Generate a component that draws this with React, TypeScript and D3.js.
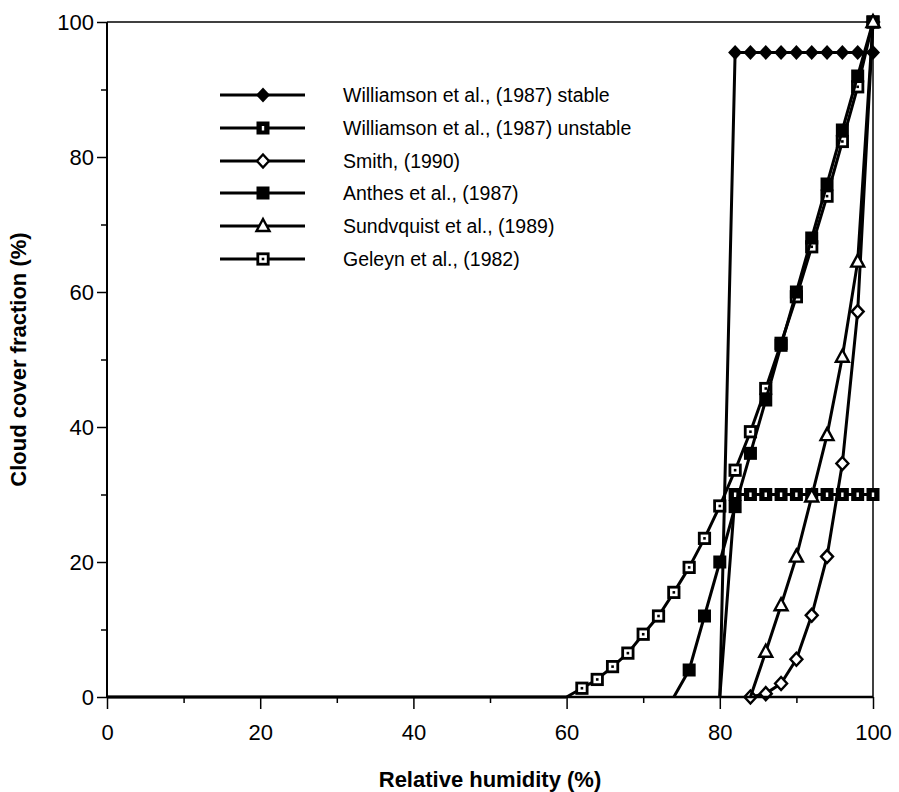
import React, { useEffect, useRef } from "react";
import * as d3 from "d3";

const W = 899;
const H = 792;

// Axis ticks
const xMajorTicks = [0, 20, 40, 60, 80, 100];
const yMajorTicks = [0, 20, 40, 60, 80, 100];
const minorTicks = [10, 30, 50, 70, 90];

// Series data (relative humidity %, cloud cover %)
const stableX = [80, 82, 84, 86, 88, 90, 92, 94, 96, 98, 100];
const stableY = [0, 95.5, 95.5, 95.5, 95.5, 95.5, 95.5, 95.5, 95.5, 95.5, 95.5];

const unstableX = [80, 82, 84, 86, 88, 90, 92, 94, 96, 98, 100];
const unstableY = [0, 30, 30, 30, 30, 30, 30, 30, 30, 30, 30];

const smithX = [84, 86, 88, 90, 92, 94, 96, 98, 100];
const smithY = [0, 0.5, 2.0, 5.6, 12.1, 20.8, 34.6, 57.1, 100];

const anthesX = [74, 76, 78, 80, 82, 84, 86, 88, 90, 92, 94, 96, 98, 100];
const anthesY = [0, 4, 12, 20, 28.2, 36.1, 44, 52.1, 60, 68, 76, 84, 92, 100];

const sundqvistX = [84, 86, 88, 90, 92, 94, 96, 98, 100];
const sundqvistY = [0, 6.7, 13.6, 20.8, 29.7, 38.8, 50.4, 64.5, 100];

const geleynX = [60, 62, 64, 66, 68, 70, 72, 74, 76, 78, 80, 82, 84, 86, 88, 90, 92, 94, 96, 98, 100];
const geleynY = [0, 1.3, 2.6, 4.5, 6.5, 9.3, 12.0, 15.5, 19.2, 23.5, 28.3, 33.6, 39.3, 45.7, 52.4, 59.3, 66.7, 74.2, 82.3, 90.4, 100];

const seriesNames = [
  "Williamson et al., (1987) stable",
  "Williamson et al., (1987) unstable",
  "Smith, (1990)",
  "Anthes et al., (1987)",
  "Sundvquist et al., (1989)",
  "Geleyn et al., (1982)",
];

type MarkerType = "filledDiamond" | "unstableSquare" | "openDiamond" | "filledSquare" | "openTriangle" | "dotSquare";

interface Series {
  name: string;
  xs: number[];
  ys: number[];
  marker: MarkerType;
  markerFrom: number;
}

const series: Series[] = [
  { name: seriesNames[0], xs: stableX, ys: stableY, marker: "filledDiamond", markerFrom: 1 },
  { name: seriesNames[1], xs: unstableX, ys: unstableY, marker: "unstableSquare", markerFrom: 1 },
  { name: seriesNames[2], xs: smithX, ys: smithY, marker: "openDiamond", markerFrom: 0 },
  { name: seriesNames[3], xs: anthesX, ys: anthesY, marker: "filledSquare", markerFrom: 1 },
  { name: seriesNames[4], xs: sundqvistX, ys: sundqvistY, marker: "openTriangle", markerFrom: 1 },
  { name: seriesNames[5], xs: geleynX, ys: geleynY, marker: "dotSquare", markerFrom: 1 },
];

// drawing order (back to front)
const drawOrder = [1, 5, 3, 2, 4, 0];

const PL = 107;
const PR = 873;
const PT = 22;
const PB = 697;

const FONT = "'Liberation Sans', Arial, Helvetica, sans-serif";
const LW = 3;

function Marker({ type, cx, cy }: { type: MarkerType; cx: number; cy: number }) {
  const s = 6.5;
  switch (type) {
    case "filledDiamond":
      return <path d={`M${cx},${cy - 7.5}L${cx + 7},${cy}L${cx},${cy + 7.5}L${cx - 7},${cy}Z`} fill="#000" />;
    case "openDiamond":
      return (
        <path
          d={`M${cx},${cy - 6.5}L${cx + 6},${cy}L${cx},${cy + 6.5}L${cx - 6},${cy}Z`}
          fill="#fff"
          stroke="#000"
          strokeWidth={2.4}
        />
      );
    case "filledSquare":
      return <rect x={cx - s} y={cy - s} width={2 * s} height={2 * s} fill="#000" />;
    case "unstableSquare":
      return (
        <g>
          <rect x={cx - s} y={cy - s} width={2 * s} height={2 * s} fill="#000" />
          <rect x={cx - 1.2} y={cy - 2} width={2.4} height={4.5} fill="#fff" />
        </g>
      );
    case "openTriangle":
      return (
        <path
          d={`M${cx},${cy - 7}L${cx + 6.5},${cy + 5}L${cx - 6.5},${cy + 5}Z`}
          fill="#fff"
          stroke="#000"
          strokeWidth={2.4}
          strokeLinejoin="miter"
        />
      );
    case "dotSquare":
      return (
        <g>
          <rect x={cx - 5.2} y={cy - 5.2} width={10.4} height={10.4} fill="#fff" stroke="#000" strokeWidth={2.8} />
          <rect x={cx - 1.3} y={cy - 1.3} width={2.6} height={2.6} fill="#000" />
        </g>
      );
  }
  return null;
}

export default function App() {
  const xAxisRef = useRef<SVGGElement>(null);
  const yAxisRef = useRef<SVGGElement>(null);
  const xMinorRef = useRef<SVGGElement>(null);
  const yMinorRef = useRef<SVGGElement>(null);

  const x = d3.scaleLinear().domain([0, 100]).range([PL, PR]);
  const y = d3.scaleLinear().domain([0, 100]).range([PB, PT]);

  useEffect(() => {
    const xa = d3
      .axisBottom(x)
      .tickValues(xMajorTicks)
      .tickSize(12)
      .tickPadding(15)
      .tickFormat(d3.format("d"));
    const xg = d3.select(xAxisRef.current!);
    xg.call(xa as any);
    xg.select(".domain").remove();
    xg.selectAll("line").attr("stroke", "#000").attr("stroke-width", 1.5);
    xg.selectAll("text").attr("font-family", FONT).attr("font-size", 22).attr("fill", "#000");

    const ya = d3
      .axisLeft(y)
      .tickValues(yMajorTicks)
      .tickSize(10)
      .tickPadding(3)
      .tickFormat(d3.format("d"));
    const yg = d3.select(yAxisRef.current!);
    yg.call(ya as any);
    yg.select(".domain").remove();
    yg.selectAll("line").attr("stroke", "#000").attr("stroke-width", 1.5);
    yg.selectAll("text").attr("font-family", FONT).attr("font-size", 22).attr("fill", "#000");

    const xm = d3.axisBottom(x).tickValues(minorTicks).tickSize(6).tickFormat(() => "");
    const xmg = d3.select(xMinorRef.current!);
    xmg.call(xm as any);
    xmg.select(".domain").remove();
    xmg.selectAll("line").attr("stroke", "#000").attr("stroke-width", 1.5);

    const ym = d3.axisLeft(y).tickValues(minorTicks).tickSize(6).tickFormat(() => "");
    const ymg = d3.select(yMinorRef.current!);
    ymg.call(ym as any);
    ymg.select(".domain").remove();
    ymg.selectAll("line").attr("stroke", "#000").attr("stroke-width", 1.5);
  }, []);

  const line = d3
    .line<[number, number]>()
    .x((d) => x(d[0]))
    .y((d) => y(d[1]));

  const legendRows = [95, 128, 161, 193, 226, 259];

  return (
    <svg
      width={W}
      height={H}
      viewBox={`0 0 ${W} ${H}`}
      style={{ position: "absolute", left: 0, top: 0, background: "#fff" }}
    >
      <rect x={0} y={0} width={W} height={H} fill="#fff" />

      {/* frame */}
      <line x1={PL} y1={PT} x2={PR} y2={PT} stroke="#000" strokeWidth={1.5} />
      <line x1={PR} y1={PT} x2={PR} y2={PB} stroke="#000" strokeWidth={1.5} />

      {/* series */}
      {drawOrder.map((i) => {
        const s = series[i];
        const pts: [number, number][] = s.xs.map((v, k) => [v, s.ys[k]]);
        return (
          <g key={s.name}>
            <path d={line(pts) || ""} fill="none" stroke="#000" strokeWidth={LW} strokeLinejoin="round" />
            {pts.map((p, k) =>
              k >= s.markerFrom ? <Marker key={k} type={s.marker} cx={x(p[0])} cy={y(p[1])} /> : null
            )}
          </g>
        );
      })}

      {/* axes lines */}
      <line x1={PL} y1={PB} x2={PR} y2={PB} stroke="#000" strokeWidth={2.6} />
      <line x1={PL} y1={PT} x2={PL} y2={PB} stroke="#000" strokeWidth={2} />
      <line x1={x(0)} y1={PB} x2={x(60)} y2={PB} stroke="#000" strokeWidth={3} />

      <g ref={xAxisRef} transform={`translate(0,${PB})`} />
      <g ref={xMinorRef} transform={`translate(0,${PB})`} />
      <g ref={yAxisRef} transform={`translate(${PL},0)`} />
      <g ref={yMinorRef} transform={`translate(${PL},0)`} />

      {/* legend */}
      {series.map((s, i) => (
        <g key={"lg" + i}>
          <line x1={220} y1={legendRows[i]} x2={305} y2={legendRows[i]} stroke="#000" strokeWidth={LW} />
          <Marker type={s.marker} cx={263} cy={legendRows[i]} />
          <text
            x={343}
            y={legendRows[i]}
            dy="0.35em"
            fontFamily={FONT}
            fontSize={19.5}
            fill="#000"
          >
            {s.name}
          </text>
        </g>
      ))}

      {/* axis titles */}
      <text
        x={(PL + PR) / 2}
        y={787}
        textAnchor="middle"
        fontFamily={FONT}
        fontSize={22}
        fontWeight="bold"
        fill="#000"
      >
        Relative humidity (%)
      </text>
      <text
        transform={`translate(26,${(PT + PB) / 2}) rotate(-90)`}
        textAnchor="middle"
        fontFamily={FONT}
        fontSize={22}
        fontWeight="bold"
        fill="#000"
      >
        Cloud cover fraction (%)
      </text>
    </svg>
  );
}
